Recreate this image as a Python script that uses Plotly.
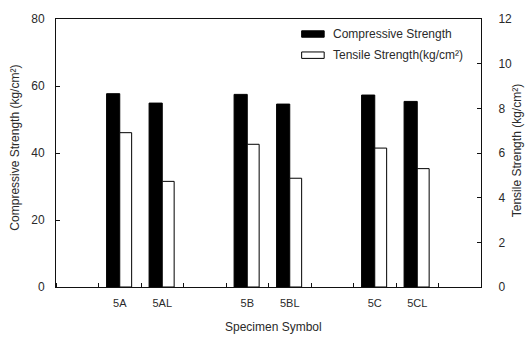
import plotly.graph_objects as go

# ---- data ----
specimens = ["5A", "5AL", "5B", "5BL", "5C", "5CL"]
groups = [0, 0, 1, 1, 2, 2]
members = [0, 1, 0, 1, 0, 1]
compressive = [57.7, 54.9, 57.5, 54.6, 57.3, 55.4]   # kg/cm²
tensile = [6.91, 4.73, 6.39, 4.87, 6.22, 5.30]        # kg/cm²
left_ticks = [0, 20, 40, 60, 80]
right_ticks = [0, 2, 4, 6, 8, 10, 12]

xpos = [g * 3 + m + 1 for g, m in zip(groups, members)]
minor_pos = [p + 0.5 for p in range(-1, 9)]

FONT = "Liberation Sans, Arial, sans-serif"
TXT = "#2a2a2a"
LINE = "#111111"

fig = go.Figure()
fig.add_trace(go.Bar(
    x=xpos, y=compressive, name="Compressive Strength",
    offset=-0.31, width=0.31,
    marker=dict(color="black", line=dict(color="black", width=1)),
    yaxis="y", showlegend=False,
))
fig.add_trace(go.Bar(
    x=xpos, y=tensile, name="Tensile Strength(kg/cm²)",
    offset=0.0, width=0.28,
    marker=dict(color="white", line=dict(color="black", width=1)),
    yaxis="y2", showlegend=False,
))

fig.update_layout(
    width=525, height=340,
    margin=dict(l=56, r=44, t=13, b=53),
    paper_bgcolor="white", plot_bgcolor="white",
    barmode="overlay",
    font=dict(family=FONT, size=12, color=TXT),
    xaxis=dict(
        range=[-0.5, 9.5],
        tickmode="array", tickvals=xpos, ticktext=specimens,
        ticks="", showgrid=False, zeroline=False,
        showline=True, linecolor=LINE, linewidth=1, mirror=True,
        tickfont=dict(size=11, color=TXT),
        ticklabelstandoff=6,
        minor=dict(tickmode="array", tickvals=minor_pos, ticks="inside",
                   ticklen=4, tickcolor=LINE, showgrid=False),
    ),
    yaxis=dict(
        range=[0, 80], tickmode="array", tickvals=left_ticks,
        ticks="inside", ticklen=4, tickcolor=LINE,
        showgrid=False, zeroline=False,
        showline=True, linecolor=LINE, linewidth=1,
        tickfont=dict(size=12, color=TXT),
        ticklabelstandoff=8,
    ),
    yaxis2=dict(
        range=[0, 12], tickmode="array", tickvals=right_ticks,
        overlaying="y", side="right",
        ticks="inside", ticklen=4, tickcolor=LINE,
        showgrid=False, zeroline=False,
        showline=True, linecolor=LINE, linewidth=1,
        tickfont=dict(size=12, color=TXT),
        ticklabelstandoff=14,
    ),
)

# axis titles
fig.add_annotation(text="Compressive Strength (kg/cm²)", xref="paper", yref="paper",
                   x=-0.0965, y=0.52, textangle=-90, showarrow=False,
                   font=dict(size=12, color=TXT), xanchor="center", yanchor="middle")
fig.add_annotation(text="Tensile Strength (kg/cm²)", xref="paper", yref="paper",
                   x=1.085, y=0.507, textangle=-90, showarrow=False,
                   font=dict(size=12, color=TXT), xanchor="center", yanchor="middle")
fig.add_annotation(text="Specimen Symbol", xref="paper", yref="paper",
                   x=0.511, y=-0.150, showarrow=False,
                   font=dict(size=12, color=TXT), xanchor="center", yanchor="middle")

# legend (drawn manually to match the wide flat swatches)
fig.add_shape(type="rect", xref="paper", yref="paper",
              x0=0.578, x1=0.631, y0=0.932, y1=0.956,
              fillcolor="black", line=dict(color="black", width=1))
fig.add_shape(type="rect", xref="paper", yref="paper",
              x0=0.578, x1=0.631, y0=0.853, y1=0.877,
              fillcolor="white", line=dict(color="black", width=1))
fig.add_annotation(text="Compressive Strength", xref="paper", yref="paper",
                   x=0.647, y=0.944, showarrow=False, xanchor="left", yanchor="middle",
                   font=dict(size=12, color=TXT))
fig.add_annotation(text="Tensile Strength(kg/cm²)", xref="paper", yref="paper",
                   x=0.647, y=0.865, showarrow=False, xanchor="left", yanchor="middle",
                   font=dict(size=12, color=TXT))

fig.write_html("out.html")
